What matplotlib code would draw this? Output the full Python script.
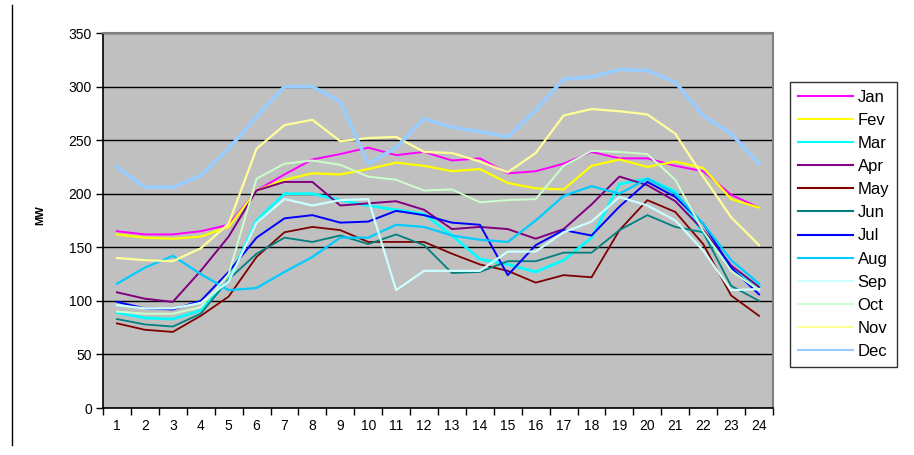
import matplotlib
matplotlib.use("Agg")
import matplotlib.pyplot as plt
from matplotlib.lines import Line2D

hours = list(range(1, 25))
months = ["Jan", "Fev", "Mar", "Apr", "May", "Jun", "Jul", "Aug", "Sep", "Oct", "Nov", "Dec"]

jan = [165,162,162,165,171,203,218,232,237,243,236,239,231,233,219,221,228,239,233,233,226,221,199,187]
fev = [162,159,158,160,169,203,213,219,218,223,229,226,221,223,210,205,204,226,232,225,230,224,195,187]
mar = [89,84,83,91,119,175,200,200,194,189,185,181,161,139,134,127,138,159,209,214,202,163,131,113]
apr = [108,102,99,128,160,203,211,211,189,191,193,185,167,169,167,158,167,190,216,208,193,166,133,113]
may = [79,73,71,86,104,141,164,169,166,155,155,155,144,134,128,117,124,122,166,194,183,153,105,86]
jun = [83,78,76,88,120,144,159,155,161,153,162,152,126,127,137,137,145,145,166,180,169,164,114,100]
jul = [99,93,92,100,127,159,177,180,173,174,184,180,173,171,124,152,166,161,188,211,197,172,131,106]
aug = [116,131,142,125,110,112,127,141,159,159,171,169,161,157,155,175,198,207,200,214,200,172,138,116]
sep = [96,93,93,98,118,173,195,189,194,195,110,128,128,128,146,146,164,174,197,189,175,147,110,111]
octo = [90,88,88,94,125,214,228,231,227,216,213,203,204,192,194,195,226,240,239,237,213,165,128,110]
nov = [140,138,137,149,172,242,264,269,249,252,253,239,238,230,220,238,273,279,277,274,256,216,178,152]
dec = [225,206,206,217,242,272,300,300,286,228,243,270,262,258,253,278,307,309,316,315,304,273,256,228]

series = [jan, fev, mar, apr, may, jun, jul, aug, sep, octo, nov, dec]
colors = ["#FF00FF", "#FFFF00", "#00FFFF", "#800080", "#800000", "#008080",
          "#0000FF", "#00CCFF", "#CCFFFF", "#CCFFCC", "#FFFF99", "#99CCFF"]
widths = [1.4, 1.6, 2.0, 1.4, 1.3, 1.3, 1.4, 1.6, 1.6, 1.4, 1.6, 2.6]

plt.rcParams["font.family"] = ["Liberation Sans", "DejaVu Sans"]

fig = plt.figure(figsize=(9.14, 4.55), dpi=100)
ax = fig.add_axes([103/914, 1 - 408/455, 670/914, 375/455])
ax.set_facecolor("#C0C0C0")

for name, vals, c, lw in zip(months, series, colors, widths):
    ax.plot(hours, vals, color=c, lw=lw, label=name, zorder=3)

ax.set_xlim(0.5, 24.5)
ax.set_ylim(0, 350)
ax.set_yticks(range(0, 351, 50))
ax.yaxis.grid(True, color="black", lw=1.0, zorder=1)
ax.set_axisbelow(True)

ax.set_xticks([h + 0.5 for h in range(0, 25)])
ax.set_xticklabels([])
ax.set_xticks(hours, minor=True)
ax.set_xticklabels([str(h) for h in hours], minor=True)
ax.tick_params(axis="x", which="major", length=5, width=1, direction="out")
ax.tick_params(axis="x", which="minor", length=0, labelsize=10, pad=8)
ax.tick_params(axis="y", length=5, width=1, labelsize=10, pad=3)

for s in ["top", "right"]:
    ax.spines[s].set_color("#808080")
    ax.spines[s].set_linewidth(1.5)
for s in ["left", "bottom"]:
    ax.spines[s].set_color("black")
    ax.spines[s].set_linewidth(1.2)

fig.text(40/914, 1 - 215/455, "MW", rotation=90, fontsize=8, fontweight="bold",
         ha="center", va="center")

leg = fig.legend(loc="upper left", bbox_to_anchor=(790/914, 1 - 82/455),
                 frameon=True, fancybox=False, edgecolor="black", fontsize=12,
                 handlelength=3.3, handletextpad=0.3, labelspacing=0.49,
                 borderpad=0.45, borderaxespad=0)
leg.get_frame().set_linewidth(1.0)
for h in leg.get_lines():
    h.set_linewidth(1.5)

fig.add_artist(Line2D([12/914, 12/914], [1 - 445/455, 1 - 5/455], color="black", lw=1,
                      transform=fig.transFigure))

fig.savefig("out.png", dpi=100, facecolor="white")
